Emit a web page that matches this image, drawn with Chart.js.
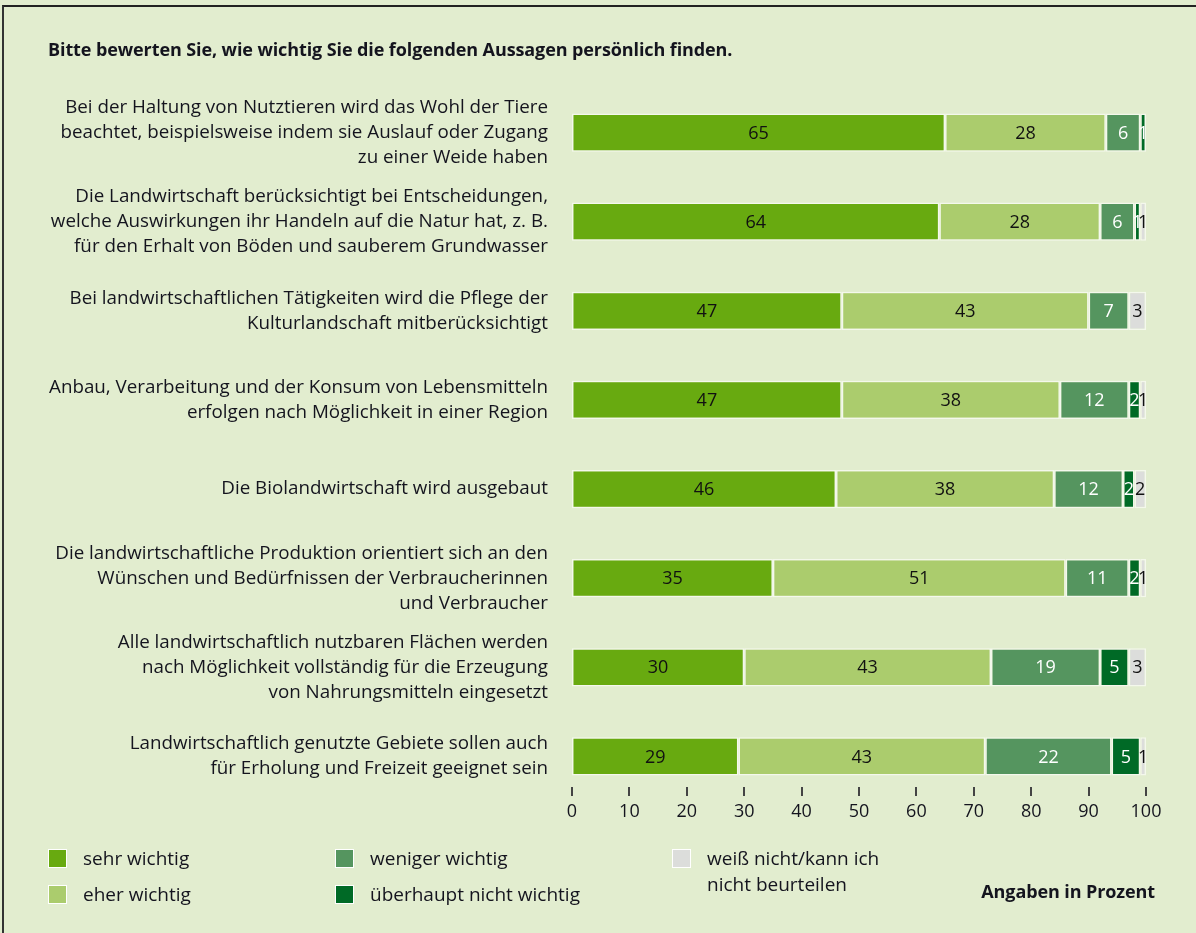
<!DOCTYPE html>
<html lang="de">
<head>
<meta charset="utf-8">
<script src="https://cdn.jsdelivr.net/npm/chart.js@4"></script>
<style>
  html, body { margin: 0; padding: 0; }
  body { width: 1196px; height: 933px; background: #fff; font-family: "Open Sans", sans-serif; color: #14141e; }
  #wrap { position: absolute; left: 0; top: 0; width: 1196px; height: 933px; background: #e2edcf; }
  #frame { position: absolute; left: 2px; top: 5px; right: 0; bottom: 0; border-left: 2px solid #333; border-top: 2px solid #222; }
  #chart { position: absolute; left: 0; top: 0; }
  .title { position: absolute; left: 48px; top: 37px; font-weight: 700; font-size: 18px; letter-spacing: -0.1px; }
  .lg { position: absolute; font-size: 19px; line-height: 26px; }
  .sw { position: absolute; width: 17px; height: 17px; border: 1px solid #fff; }
  .unit { position: absolute; right: 41px; top: 879px; font-weight: 700; font-size: 18px; letter-spacing: -0.1px; }
</style>
</head>
<body>
<div id="wrap">
  <div id="frame"></div>
  <canvas id="chart" width="1196" height="933"></canvas>
  <div class="title">Bitte bewerten Sie, wie wichtig Sie die folgenden Aussagen persönlich finden.</div>
  <div id="legend"></div>
  <div class="unit">Angaben in Prozent</div>
</div>
<script>
const statements = [
  ['Bei der Haltung von Nutztieren wird das Wohl der Tiere', 'beachtet, beispielsweise indem sie Auslauf oder Zugang', 'zu einer Weide haben'],
  ['Die Landwirtschaft berücksichtigt bei Entscheidungen,', 'welche Auswirkungen ihr Handeln auf die Natur hat, z. B.', 'für den Erhalt von Böden und sauberem Grundwasser'],
  ['Bei landwirtschaftlichen Tätigkeiten wird die Pflege der', 'Kulturlandschaft mitberücksichtigt'],
  ['Anbau, Verarbeitung und der Konsum von Lebensmitteln', 'erfolgen nach Möglichkeit in einer Region'],
  ['Die Biolandwirtschaft wird ausgebaut'],
  ['Die landwirtschaftliche Produktion orientiert sich an den', 'Wünschen und Bedürfnissen der Verbraucherinnen', 'und Verbraucher'],
  ['Alle landwirtschaftlich nutzbaren Flächen werden', 'nach Möglichkeit vollständig für die Erzeugung', 'von Nahrungsmitteln eingesetzt'],
  ['Landwirtschaftlich genutzte Gebiete sollen auch', 'für Erholung und Freizeit geeignet sein'],
];
const sehrWichtig = [65, 64, 47, 47, 46, 35, 30, 29];
const eherWichtig = [28, 28, 43, 38, 38, 51, 43, 43];
const wenigerWichtig = [6, 6, 7, 12, 12, 11, 19, 22];
const nichtWichtig = [1, 1, 0, 2, 2, 2, 5, 5];
const weissNicht = [0, 1, 3, 1, 2, 1, 3, 1];
const xTicks = [0, 10, 20, 30, 40, 50, 60, 70, 80, 90, 100];

const series = [
  { label: 'sehr wichtig', data: sehrWichtig, color: '#68aa10', text: '#111' },
  { label: 'eher wichtig', data: eherWichtig, color: '#abcc6d', text: '#111' },
  { label: 'weniger wichtig', data: wenigerWichtig, color: '#55955f', text: '#fff' },
  { label: 'überhaupt nicht wichtig', data: nichtWichtig, color: '#006a26', text: '#fff' },
  { label: ['weiß nicht/kann ich', 'nicht beurteilen'], data: weissNicht, color: '#dcdddb', text: '#111' },
];

// Legende als HTML
const legendPos = [[48, 849], [48, 885], [335, 849], [335, 885], [672, 849]];
const legend = document.getElementById('legend');
series.forEach((s, i) => {
  const [lx, ly] = legendPos[i];
  const sw = document.createElement('div');
  sw.className = 'sw';
  sw.style.left = lx + 'px';
  sw.style.top = ly + 'px';
  sw.style.background = s.color;
  legend.appendChild(sw);
  const t = document.createElement('div');
  t.className = 'lg';
  t.style.left = (lx + 35) + 'px';
  t.style.top = (ly - 4) + 'px';
  t.innerHTML = [].concat(s.label).join('<br>');
  legend.appendChild(t);
});

const segmentLabels = {
  id: 'segmentLabels',
  afterDatasetsDraw(chart) {
    const { ctx } = chart;
    ctx.save();
    ctx.font = '18px "Open Sans"';
    ctx.textAlign = 'center';
    ctx.textBaseline = 'middle';
    chart.data.datasets.forEach((ds, di) => {
      chart.getDatasetMeta(di).data.forEach((bar, i) => {
        const v = ds.data[i];
        if (!v) return;
        ctx.fillStyle = series[di].text;
        ctx.fillText(String(v), (bar.x + bar.base) / 2, bar.y + 1);
      });
    });
    ctx.restore();
  },
};

const tickMarks = {
  id: 'tickMarks',
  afterDraw(chart) {
    const { ctx } = chart;
    const x = chart.scales.x;
    ctx.save();
    ctx.strokeStyle = '#444';
    ctx.lineWidth = 2;
    xTicks.forEach((t) => {
      const px = Math.round(x.getPixelForValue(t));
      ctx.beginPath();
      ctx.moveTo(px, 787);
      ctx.lineTo(px, 796);
      ctx.stroke();
    });
    ctx.restore();
  },
};

Chart.defaults.font.family = '"Open Sans"';
Chart.defaults.color = '#14141e';

new Chart(document.getElementById('chart').getContext('2d'), {
  type: 'bar',
  data: {
    labels: statements,
    datasets: series.map((s) => ({
      label: [].concat(s.label).join(' '),
      data: s.data,
      backgroundColor: s.color,
      borderColor: '#f4f8ec',
      borderWidth: 1.5,
      borderSkipped: false,
      categoryPercentage: 1,
      barPercentage: 0.43,
    })),
  },
  options: {
    indexAxis: 'y',
    responsive: false,
    animation: false,
    layout: { padding: { top: 88, right: 50, bottom: 102, left: 0 } },
    scales: {
      x: {
        stacked: true,
        min: 0,
        max: 100,
        afterBuildTicks: (scale) => { scale.ticks = xTicks.map((v) => ({ value: v })); },
        afterFit: (scale) => { scale.height = 30; },
        grid: { display: false, drawTicks: false },
        border: { display: false },
        ticks: { font: { size: 18 }, padding: 0, maxRotation: 0 },
      },
      y: {
        stacked: true,
        afterFit: (scale) => { scale.width = 572; },
        grid: { display: false, drawTicks: false },
        border: { display: false },
        ticks: { font: { size: 18.8, lineHeight: 1.33 }, padding: 24, autoSkip: false },
      },
    },
    plugins: {
      legend: { display: false },
      tooltip: { enabled: false },
    },
  },
  plugins: [segmentLabels, tickMarks],
});
</script>
</body>
</html>
